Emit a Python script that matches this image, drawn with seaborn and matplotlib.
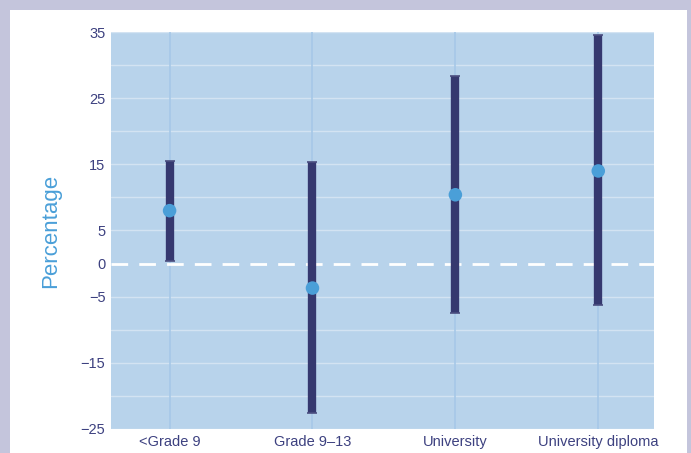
import numpy as np
import pandas as pd
import matplotlib
matplotlib.use("Agg")
import matplotlib.pyplot as plt
import seaborn as sns
from matplotlib.patches import Rectangle

# values
categories = ["<Grade 9", "Grade 9\u201313", "University", "University diploma"]
estimate = [8.0, -3.7, 10.4, 14.0]
lower = [0.4, -22.6, -7.5, -6.3]
upper = [15.5, 15.3, 28.3, 34.5]

y_ticks = [35, 30, 25, 20, 15, 10, 5, 0, -5, -10, -15, -20, -25]
y_labels = ["35", "", "25", "", "15", "", "5", "0", "\u22125", "", "\u221215", "", "\u221225"]

df = pd.DataFrame({"group": categories, "est": estimate, "lo": lower, "hi": upper})

sns.set_style("white")
plt.rcParams["font.family"] = ["Liberation Sans Narrow", "Liberation Sans", "DejaVu Sans"]

navy = "#35386f"
point_blue = "#4a9fd8"
text_navy = "#3d4180"

fig = plt.figure(figsize=(6.91, 4.53), dpi=100)
fig.patch.set_facecolor("#c4c5dc")
fig.patches.append(Rectangle((10 / 691, 0), 677 / 691, 443 / 453, transform=fig.transFigure,
                             facecolor="white", edgecolor="none", zorder=-10))

ax = fig.add_axes([111 / 691, 24 / 453, 543 / 691, 397 / 453])
ax.set_zorder(2)
ax.set_facecolor("#b8d3eb")

x = np.arange(len(categories))
ax.vlines(x, lower, upper, color=navy, lw=6, zorder=3)
ax.hlines(lower, x - 0.035, x + 0.035, color="#4b4e80", lw=1.2, zorder=4)
ax.hlines(upper, x - 0.035, x + 0.035, color="#4b4e80", lw=1.2, zorder=4)
sns.scatterplot(data=df.assign(pos=x), x="pos", y="est", color=point_blue, s=95,
                edgecolor="none", zorder=5, ax=ax)

ax.axhline(0, color="white", lw=2, ls=(0, (6, 4)), zorder=2)
for yv in y_ticks:
    if yv != 0:
        ax.axhline(yv, color="#d3e3f2", lw=1, zorder=1)
for xv in x:
    ax.axvline(xv, color="#a6c8e8", lw=1.2, zorder=1)

ax.set_xlim(-0.41, 3.39)
ax.set_ylim(-25, 35)
ax.set_xticks(x)
ax.set_xticklabels(categories, fontsize=10.5, color=text_navy)
ax.set_yticks(y_ticks)
ax.set_yticklabels(y_labels, fontsize=10.5, color=text_navy)
ax.tick_params(length=0, pad=4)
ax.set_xlabel("")
ax.set_ylabel("Percentage", fontsize=16, color=point_blue, labelpad=14,
              family=["Liberation Sans", "DejaVu Sans"])
for s in ax.spines.values():
    s.set_visible(False)

fig.savefig("out.png", dpi=100, facecolor=fig.get_facecolor())
